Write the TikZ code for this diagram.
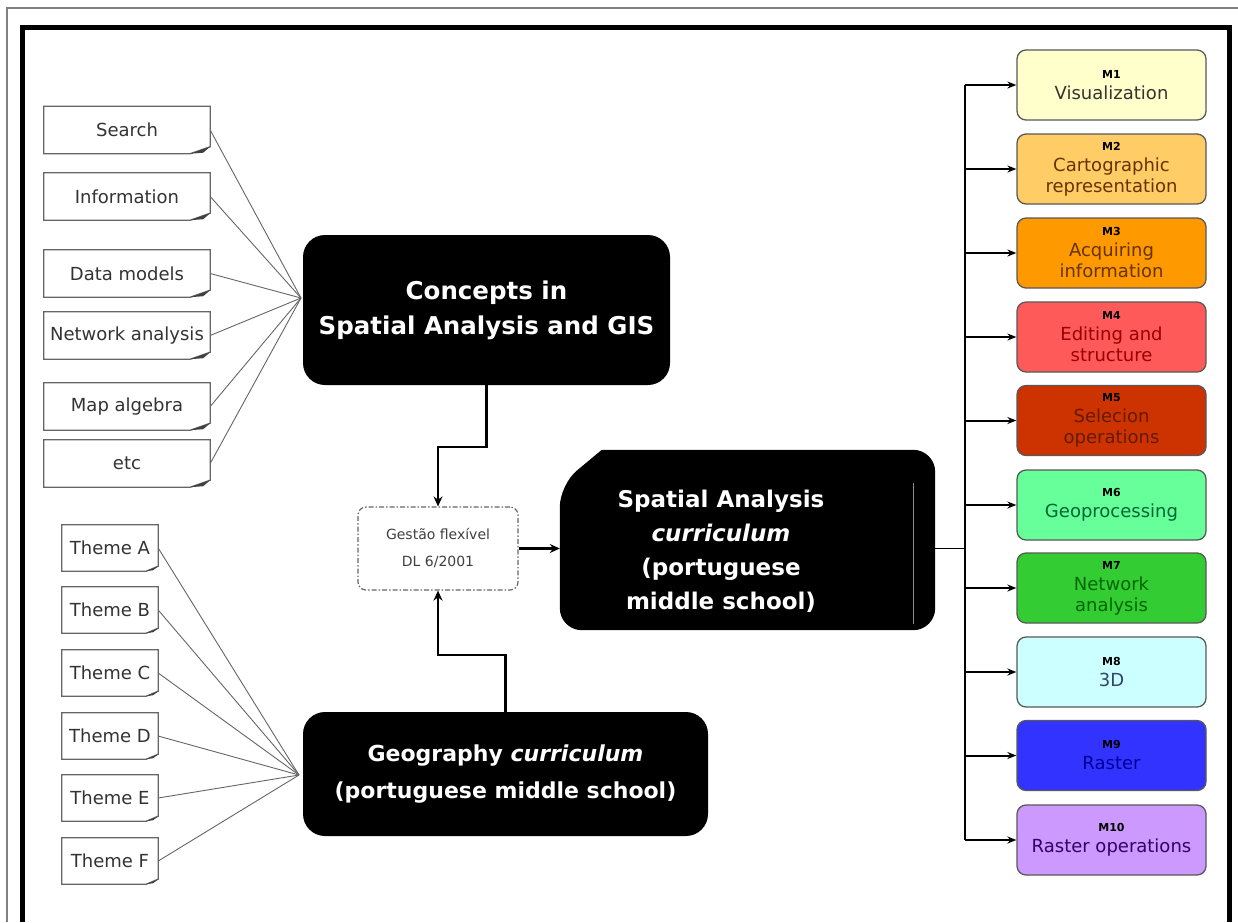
\documentclass[tikz,border=0pt]{standalone}
\usepackage{fontspec}
\setmainfont{DejaVu Sans}
\usetikzlibrary{arrows.meta}
\definecolor{mfa}{HTML}{FFFFCC}\definecolor{mta}{HTML}{333333}
\definecolor{mfb}{HTML}{FFCC66}\definecolor{mtb}{HTML}{663300}
\definecolor{mfc}{HTML}{FF9900}\definecolor{mtc}{HTML}{663300}
\definecolor{mfd}{HTML}{FF5A5A}\definecolor{mtd}{HTML}{990000}
\definecolor{mfe}{HTML}{CC3300}\definecolor{mte}{HTML}{661A00}
\definecolor{mff}{HTML}{66FF99}\definecolor{mtf}{HTML}{006633}
\definecolor{mfg}{HTML}{33CC33}\definecolor{mtg}{HTML}{006600}
\definecolor{mfh}{HTML}{CCFFFF}\definecolor{mth}{HTML}{334466}
\definecolor{mfi}{HTML}{3333FF}\definecolor{mti}{HTML}{000099}
\definecolor{mfj}{HTML}{CC99FF}\definecolor{mtj}{HTML}{330066}
\begin{document}
\begin{tikzpicture}[x=1pt,y=-1pt,
  docbox/.style={minimum width=166pt, minimum height=47pt, inner sep=0pt, text=black!80,
    font=\fontsize{18}{20}\selectfont},
  themebox/.style={minimum width=96pt, minimum height=46pt, inner sep=0pt, text=black!80,
    font=\fontsize{18}{20}\selectfont},
  blackbox/.style={fill=black, rounded corners=22pt, text=white, align=center, inner sep=0pt,
    font=\bfseries\fontsize{24.5}{35}\selectfont},
  gesbox/.style={draw=black!60, line width=1.2pt, rounded corners=8pt,
    dash pattern=on 5pt off 2pt on 1.5pt off 2pt, minimum width=160pt, minimum height=83pt,
    align=center, text=black!75, font=\fontsize{14}{27}\selectfont},
  mbox/.style={draw=black!65, line width=1.3pt, rounded corners=9pt, minimum width=189pt,
    minimum height=70pt, inner sep=0pt, align=center, font=\fontsize{18}{21}\selectfont},
  fan/.style={draw=black!60, line width=0.9pt},
  conn/.style={draw=black, line width=2.5pt, -{Stealth[length=10pt,width=9pt]}},
  busarrow/.style={draw=black, line width=2pt, -{Stealth[length=9pt,width=7pt]}}
]
\useasboundingbox (0,0) rectangle (1238,922);
\fill[white] (0,0) rectangle (1238,922);
% frames
\draw[gray, line width=1.5pt] (7,922) -- (7,8) -- (1238,8);
\draw[black, line width=5pt] (22.5,922) -- (22.5,27.5) -- (1229,27.5) -- (1229,922);

% left concept boxes
\node[docbox] (s1) at (127,130) {Search};
\node[docbox] (s2) at (127,196.5) {Information};
\node[docbox] (s3) at (127,273.5) {Data models};
\node[docbox] (s4) at (127,335.5) {Network analysis};
\node[docbox] (s5) at (127,406.5) {Map algebra};
\node[docbox] (s6) at (127,463.5) {etc};
\foreach \n in {s1,s2,s3,s4,s5,s6}{
  \draw[black!60, line width=1.3pt] (\n.north west) -- (\n.north east) -- ([yshift=7pt]\n.south east)
     -- ([xshift=-20pt]\n.south east) -- (\n.south west) -- cycle;
  \fill[black!75] ([xshift=-20pt]\n.south east) -- ([yshift=7pt]\n.south east) -- ([xshift=-7pt,yshift=1pt]\n.south east) -- cycle;
}

% themes
\node[themebox] (t1) at (110,548) {Theme A};
\node[themebox] (t2) at (110,610) {Theme B};
\node[themebox] (t3) at (110,673) {Theme C};
\node[themebox] (t4) at (110,736) {Theme D};
\node[themebox] (t5) at (110,798) {Theme E};
\node[themebox] (t6) at (110,861) {Theme F};
\foreach \n in {t1,t2,t3,t4,t5,t6}{
  \draw[black!60, line width=1.3pt] (\n.north west) -- (\n.north east) -- ([yshift=5pt]\n.south east)
     -- ([xshift=-12pt]\n.south east) -- (\n.south west) -- cycle;
  \fill[black!75] ([xshift=-12pt]\n.south east) -- ([yshift=5pt]\n.south east) -- ([xshift=-5pt,yshift=1pt]\n.south east) -- cycle;
}

% main black boxes
\node[blackbox, minimum width=367pt, minimum height=150pt] (con) at (486.5,310)
  {Concepts in\\Spatial Analysis and GIS};
\node[blackbox, minimum width=405pt, minimum height=124pt, font=\bfseries\fontsize{22}{37}\selectfont] (geo) at (505.5,774)
  {Geography \textit{curriculum}\\(portuguese middle school)};

% spatial analysis box
\node[minimum width=375pt, minimum height=180pt, inner sep=0pt] (sp) at (747.5,540) {};
\fill[black, rounded corners=22pt] ([xshift=42pt]sp.north west) -- (sp.north east) -- (sp.south east)
   -- (sp.south west) -- ([yshift=-35pt]sp.north west) [sharp corners] -- cycle;
\draw[black!45, line width=1.2pt] ([xshift=-22pt,yshift=-33pt]sp.north east) -- ([xshift=-22pt,yshift=6pt]sp.south east);
\node[align=center, text=white, font=\bfseries\fontsize{23}{34}\selectfont] (spt) at (721,551)
  {Spatial Analysis\\\textit{curriculum}\\(portuguese\\middle school)};

% gestao box
\node[gesbox] (ges) at (438,548.5) {Gestão flexível\\DL 6/2001};

% fans
\coordinate (cfan) at (301,298);
\coordinate (tfan) at (299,775);
\foreach \n in {s1,s2,s3,s4,s5,s6}{ \draw[fan] (\n.east) -- (cfan); }
\foreach \n in {t1,t2,t3,t4,t5,t6}{ \draw[fan] (\n.east) -- (tfan); }

% connectors to gestao
\draw[conn] (con.south) -- ++(0,62) -| (ges.north);
\draw[conn] (geo.north) -- ++(0,-57) -| (ges.south);
\draw[conn] (ges.east) -- (ges.east -| sp.west);

% M boxes
\node[mbox, fill=mfa, text=mta] (m1) at (1111.5,85) {{\fontsize{11}{12}\selectfont\bfseries\color{black}M1}\\Visualization};
\node[mbox, fill=mfb, text=mtb] (m2) at (1111.5,169) {{\fontsize{11}{12}\selectfont\bfseries\color{black}M2}\\Cartographic\\representation};
\node[mbox, fill=mfc, text=mtc] (m3) at (1111.5,253) {{\fontsize{11}{12}\selectfont\bfseries\color{black}M3}\\Acquiring\\information};
\node[mbox, fill=mfd, text=mtd] (m4) at (1111.5,337) {{\fontsize{11}{12}\selectfont\bfseries\color{black}M4}\\Editing and\\structure};
\node[mbox, fill=mfe, text=mte] (m5) at (1111.5,420.5) {{\fontsize{11}{12}\selectfont\bfseries\color{black}M5}\\Selecion\\operations};
\node[mbox, fill=mff, text=mtf] (m6) at (1111.5,505) {{\fontsize{11}{12}\selectfont\bfseries\color{black}M6}\\Geoprocessing};
\node[mbox, fill=mfg, text=mtg] (m7) at (1111.5,588) {{\fontsize{11}{12}\selectfont\bfseries\color{black}M7}\\Network\\analysis};
\node[mbox, fill=mfh, text=mth] (m8) at (1111.5,672) {{\fontsize{11}{12}\selectfont\bfseries\color{black}M8}\\3D};
\node[mbox, fill=mfi, text=mti] (m9) at (1111.5,755.5) {{\fontsize{11}{12}\selectfont\bfseries\color{black}M9}\\Raster};
\node[mbox, fill=mfj, text=mtj] (m10) at (1111.5,840) {{\fontsize{11}{12}\selectfont\bfseries\color{black}M10}\\Raster operations};

% bus
\coordinate (bus) at (965,548.5);
\draw[black, line width=1.5pt] (ges.east -| sp.east) -- (bus);
\draw[black, line width=2.5pt] (bus |- m1.west) -- (bus |- m10.west);
\foreach \n in {m1,m2,m3,m4,m5,m6,m7,m8,m9,m10}{ \draw[busarrow] (bus |- \n.west) -- (\n.west); }
\end{tikzpicture}
\end{document}
